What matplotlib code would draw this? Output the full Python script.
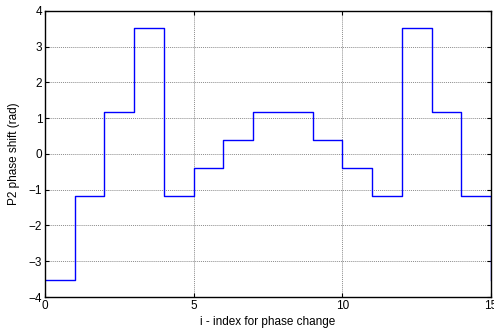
import matplotlib
matplotlib.use("Agg")
import matplotlib.pyplot as plt
import numpy as np

index = list(range(16))
phase = [-3.53, -1.18, 1.18, 3.53, -1.18, -0.39, 0.39, 1.18,
         1.18, 0.39, -0.39, -1.18, 3.53, 1.18, -1.18, -3.53]
xticks = [0, 5, 10, 15]
yticks = [-4, -3, -2, -1, 0, 1, 2, 3, 4]

plt.rcParams['font.family'] = ['Liberation Sans', 'DejaVu Sans']
fig = plt.figure(figsize=(4.94, 3.30), dpi=100)
ax = fig.add_axes([0.091, 0.1, 0.903, 0.867])
ax.step(index, phase, where='post', color='#0000ff', lw=1.0)
ax.set_xlim(0, 15)
ax.set_ylim(-4, 4)
ax.set_xticks(xticks)
ax.set_yticks(yticks)
ax.tick_params(direction='in', length=3, width=0.8, labelsize=8.5, pad=2,
               top=True, right=True, colors='black')
ax.grid(True, color='#8c8c8c', linestyle=(0, (1, 1)), linewidth=0.7)
for s in ax.spines.values():
    s.set_linewidth(1.0)
ax.set_xlabel('i - index for phase change', fontsize=8.5, labelpad=3)
ax.set_ylabel('P2 phase shift (rad)', fontsize=8.5, labelpad=6)
fig.savefig('out.png', dpi=100)
